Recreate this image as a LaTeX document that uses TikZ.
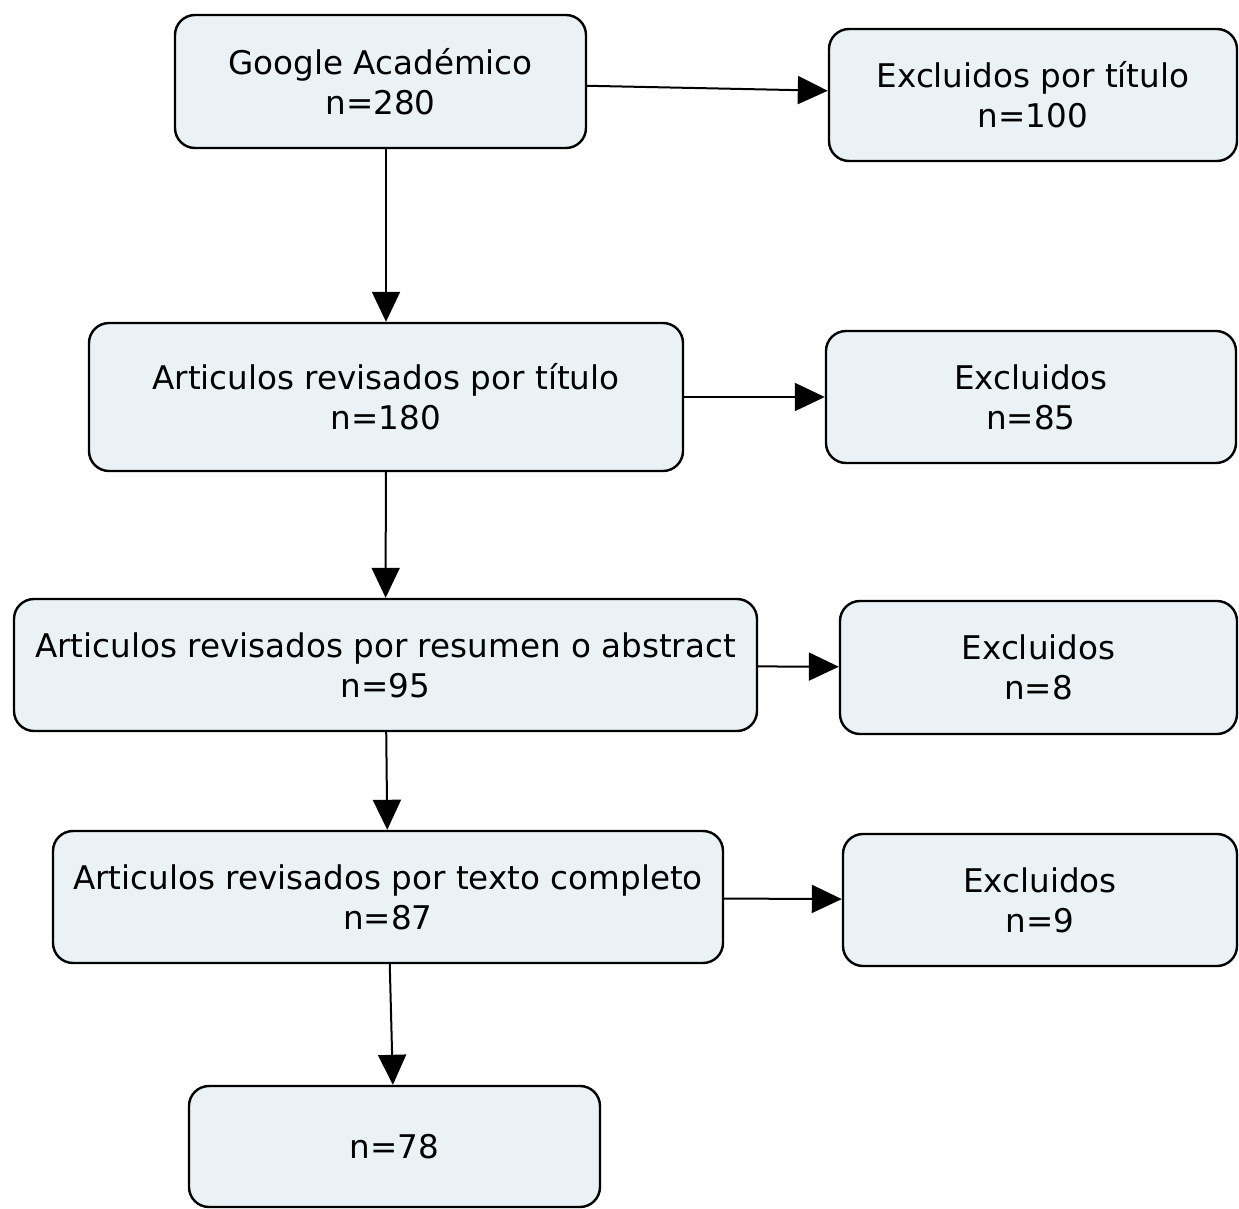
\documentclass[tikz,border=0pt]{standalone}
\usepackage{fontspec}
\setmainfont{DejaVu Sans}
\usetikzlibrary{arrows.meta}
\definecolor{boxfill}{RGB}{234,242,245}
\begin{document}
\begin{tikzpicture}[x=0.5pt,y=-0.5pt,line join=round,>={Triangle[length=15pt,width=14pt]},
  font=\fontsize{16.3}{20}\selectfont,
  caja/.style={draw,line width=1.2pt,fill=boxfill,rounded corners=10pt,align=center,inner sep=0pt},
  flecha/.style={->,line width=1pt}]
\useasboundingbox (0,0) rectangle (1239,1209);
\node[caja,minimum width=205.5pt,minimum height=66.5pt] (google) at (380.5,81.5) {Google Académico\\n=280};
\node[caja,minimum width=204pt,minimum height=66pt] (extitulo) at (1033,95) {Excluidos por título\\n=100};
\node[caja,minimum width=297pt,minimum height=74pt] (titulo) at (386,397) {Articulos revisados por título\\n=180};
\node[caja,minimum width=205pt,minimum height=66pt] (exdos) at (1031,397) {Excluidos\\n=85};
\node[caja,minimum width=371.5pt,minimum height=66pt] (resumen) at (385.5,665) {Articulos revisados por resumen o abstract\\n=95};
\node[caja,minimum width=198.5pt,minimum height=66.5pt] (extres) at (1038.5,667.5) {Excluidos\\n=8};
\node[caja,minimum width=335pt,minimum height=66pt] (texto) at (388,897) {Articulos revisados por texto completo\\n=87};
\node[caja,minimum width=197pt,minimum height=66pt] (excuatro) at (1040,900) {Excluidos\\n=9};
\node[caja,minimum width=205.5pt,minimum height=60.5pt] (final) at (394.5,1146.5) {n=78};
\draw[flecha] (google.south -| titulo.north) -- (titulo.north);
\foreach \a/\b in {google/extitulo,titulo/exdos,titulo/resumen,resumen/extres,resumen/texto,texto/excuatro,texto/final}{\draw[flecha] (\a) -- (\b);}
\end{tikzpicture}
\end{document}
